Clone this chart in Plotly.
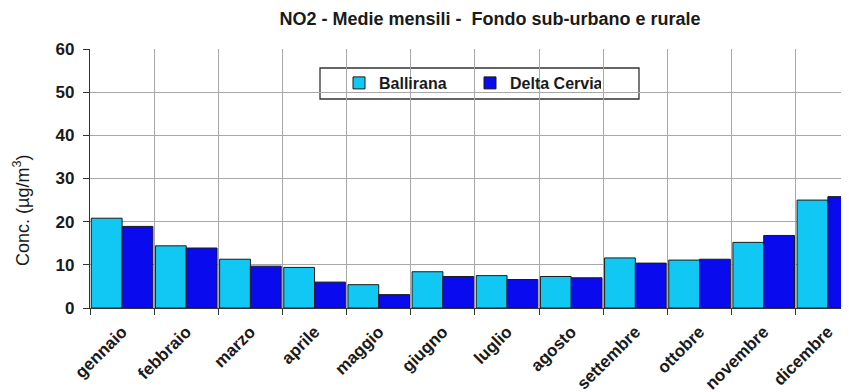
import plotly.graph_objects as go

months = ["gennaio", "febbraio", "marzo", "aprile", "maggio", "giugno",
          "luglio", "agosto", "settembre", "ottobre", "novembre", "dicembre"]
ballirana = [20.8, 14.4, 11.3, 9.4, 5.4, 8.4, 7.5, 7.3, 11.6, 11.1, 15.2, 25.0]
delta_cervia = [18.9, 13.9, 9.7, 6.0, 3.1, 7.3, 6.6, 7.0, 10.4, 11.3, 16.8, 25.8]
y_ticks = [0, 10, 20, 30, 40, 50, 60]

FONT = "Arial, 'Liberation Sans', sans-serif"
TXT = "#1a1a1a"

fig = go.Figure()
fig.add_trace(go.Bar(name="Ballirana", x=months, y=ballirana,
                     marker=dict(color="#11C8F5", line=dict(color="#1a1a1a", width=1))))
fig.add_trace(go.Bar(name="Delta Cervia", x=months, y=delta_cervia,
                     marker=dict(color="#0A0AEE", line=dict(color="#1a1a1a", width=1))))

# page body has an 8px default margin: the figure starts at (8, 8)
OFF = 8
WIN_W, WIN_H = 849, 392
W, H = WIN_W - OFF, WIN_H - OFF
AX_L, AX_T, AX_B = 90, 49, 308          # plot area in window pixels
L, T, B = AX_L - OFF, AX_T - OFF, WIN_H - AX_B
pw = WIN_W - AX_L
ph = AX_B - AX_T


def px_x(x):
    return (x - AX_L) / pw


def px_y(y):
    return (AX_B - y) / ph


fig.update_layout(
    width=W, height=H,
    margin=dict(l=L, r=0, t=T, b=B, pad=0),
    paper_bgcolor="white", plot_bgcolor="white",
    barmode="group", bargap=0.04, bargroupgap=0,
    font=dict(family=FONT, color=TXT),
    title=dict(text="NO2 - Medie mensili -  Fondo sub-urbano e rurale",
               font=dict(size=18, family=FONT, color=TXT, weight="bold"),
               x=(490 - OFF) / W, xanchor="center",
               y=1 - (19 - OFF) / H, yanchor="middle"),
    showlegend=True,
    legend=dict(orientation="h", x=px_x(339), xanchor="left",
                y=px_y(83), yanchor="middle",
                bgcolor="rgba(0,0,0,0)", borderwidth=0,
                font=dict(size=16, family=FONT, color=TXT, weight="bold"),
                entrywidth=86, entrywidthmode="pixels",
                itemclick=False),
    shapes=[dict(type="rect", xref="paper", yref="paper",
                 x0=px_x(320), x1=px_x(639), y0=px_y(99), y1=px_y(68),
                 line=dict(color="#333333", width=1.3), fillcolor="rgba(0,0,0,0)",
                 layer="below")],
    annotations=[dict(text="Conc. (µg/m<sup>3</sup>)", textangle=-90,
                      xref="paper", yref="paper", x=px_x(21), y=px_y(211),
                      xanchor="center", yanchor="middle", showarrow=False,
                      font=dict(size=18, family=FONT, color=TXT))],
)

fig.update_xaxes(
    range=[-0.5, 11.5 - (860 - 849) / 64.4],
    tickson="boundaries", showgrid=True, gridcolor="#a8a8a8", gridwidth=1,
    ticks="outside", ticklen=6, tickcolor="#333333",
    showline=True, linecolor="#333333", linewidth=1.3,
    tickangle=-45, ticklabelstandoff=6,
    tickfont=dict(size=17, family=FONT, color=TXT, weight="bold"),
    fixedrange=True,
)
fig.update_yaxes(
    range=[0, 60], tickvals=y_ticks, showgrid=True, gridcolor="#a8a8a8", gridwidth=1,
    ticks="outside", ticklen=6, tickcolor="#333333",
    showline=True, linecolor="#333333", linewidth=1.3,
    tickfont=dict(size=17, family=FONT, color=TXT, weight="bold"),
    ticklabelstandoff=5, zeroline=False,
    fixedrange=True,
)

fig.write_html("out.html")
